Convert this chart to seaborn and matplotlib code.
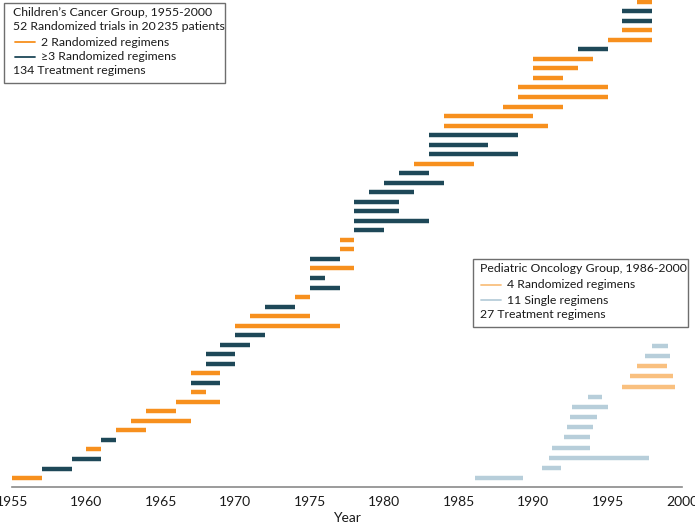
import matplotlib
matplotlib.use("Agg")
import matplotlib.pyplot as plt
import seaborn as sns
from matplotlib.lines import Line2D
from matplotlib.patches import Rectangle

# -------------------------------------------------------------------
# Data (one row per regimen, bottom to top)
# -------------------------------------------------------------------
# Children's Cancer Group: kind 2 = 2 randomized regimens, 3 = >=3 randomized
ccg_start = [1955, 1957, 1959, 1960, 1961, 1962, 1963, 1964, 1966, 1967,
             1967, 1967, 1968, 1968, 1969, 1970, 1970, 1971, 1972, 1974,
             1975, 1975, 1975, 1975, 1977, 1977, 1978, 1978, 1978, 1978,
             1979, 1980, 1981, 1982, 1983, 1983, 1983, 1984, 1984, 1988,
             1989, 1989, 1990, 1990, 1990, 1993, 1995, 1996, 1996, 1996,
             1997]
ccg_end = [1957, 1959, 1961, 1961, 1962, 1964, 1967, 1966, 1969, 1968,
           1969, 1969, 1970, 1970, 1971, 1972, 1977, 1975, 1974, 1975,
           1977, 1976, 1978, 1977, 1978, 1978, 1980, 1983, 1981, 1981,
           1982, 1984, 1983, 1986, 1989, 1987, 1989, 1991, 1990, 1992,
           1995, 1995, 1992, 1993, 1994, 1995, 1998, 1998, 1998, 1998,
           1998]
ccg_kind = [2, 3, 3, 2, 3, 2, 2, 2, 2, 2,
            3, 2, 3, 3, 3, 3, 2, 2, 3, 2,
            3, 3, 2, 3, 2, 2, 3, 3, 3, 3,
            3, 3, 3, 2, 3, 3, 3, 2, 2, 2,
            2, 2, 2, 2, 2, 3, 2, 2, 3, 3,
            2]

# Pediatric Oncology Group: "r" = randomized, "s" = single regimen
pog_start = [1986.1, 1990.6, 1991.1, 1991.25, 1992.1, 1992.3, 1992.5,
             1992.6, 1993.7, 1996.0, 1996.5, 1997.0, 1997.5, 1998.0]
pog_end = [1989.3, 1991.9, 1997.8, 1993.85, 1993.85, 1994.0, 1994.3,
           1995.0, 1994.6, 1999.5, 1999.4, 1999.0, 1999.2, 1999.05]
pog_kind = ["s", "s", "s", "s", "s", "s", "s", "s", "s",
            "r", "r", "r", "s", "s"]

year_ticks = list(range(1955, 2001, 5))

# -------------------------------------------------------------------
# Style
# -------------------------------------------------------------------
sns.set_style("white")
plt.rcParams["font.family"] = ["Lato", "DejaVu Sans"]

colors = {2: "#F7901E", 3: "#1E4858", "r": "#F9C07F", "s": "#B7CEDA"}
bar_lw = 3.2
txt_col = "#1a1a1a"
legend_fs = 8.8

W, H = 695, 525
fig = plt.figure(figsize=(W / 100, H / 100), dpi=100)
ax = fig.add_axes([12 / W, 38 / H, 670 / W, 487 / H])
ax2 = ax.twinx()

# CCG bars
for i, (s, e, k) in enumerate(zip(ccg_start, ccg_end, ccg_kind)):
    ax.hlines(i, s, e, color=colors[k], lw=bar_lw)

# POG bars on their own (slightly wider spaced) scale
for i, (s, e, k) in enumerate(zip(pog_start, pog_end, pog_kind)):
    ax2.hlines(i, s, e, color=colors[k], lw=bar_lw)

ax.set_ylim(-0.94, 50.18)
ax2.set_ylim(-0.89, 47.1)
ax.set_xlim(1955, 2000)

for a in (ax, ax2):
    a.set_yticks([])
    for side in ("left", "right", "top"):
        a.spines[side].set_visible(False)
    a.spines["bottom"].set_color("#8a8a8a")
    a.spines["bottom"].set_linewidth(1.2)
ax2.spines["bottom"].set_visible(False)

ax.set_xticks(year_ticks)
ax.tick_params(axis="x", direction="out", length=4, width=1.1,
               color="#8a8a8a", labelsize=10, labelcolor=txt_col, pad=2.5)
ax.set_xlabel("Year", fontsize=10, color=txt_col, labelpad=3)


# -------------------------------------------------------------------
# Hand-made legend boxes (figure pixel coordinates from the top-left)
# -------------------------------------------------------------------
def fx(px):
    return px / W


def fy(py):
    return 1 - py / H


def legend_box(x0, y0, x1, y1, lines, ys, text_x, handle_x, handle_len):
    fig.patches.append(Rectangle((fx(x0), fy(y1)), fx(x1 - x0), (y1 - y0) / H,
                                 transform=fig.transFigure, fill=True,
                                 facecolor="white", edgecolor="#6e6e6e",
                                 linewidth=1.0, zorder=5))
    for (label, col), y in zip(lines, ys):
        if col is None:
            fig.text(fx(text_x), fy(y), label, fontsize=legend_fs,
                     color=txt_col, va="center", ha="left", zorder=6)
        else:
            fig.add_artist(Line2D([fx(handle_x), fx(handle_x + handle_len)],
                                  [fy(y), fy(y)], color=col, lw=1.3,
                                  transform=fig.transFigure, zorder=6))
            fig.text(fx(handle_x + handle_len + 6), fy(y), label,
                     fontsize=legend_fs, color=txt_col, va="center",
                     ha="left", zorder=6)


ccg_lines = [
    ("Children\u2019s Cancer Group, 1955-2000", None),
    ("52 Randomized trials in 20\u2009235 patients", None),
    ("2 Randomized regimens", colors[2]),
    ("\u22653 Randomized regimens", colors[3]),
    ("134 Treatment regimens", None),
]
legend_box(4, 3, 225, 83, ccg_lines, [12, 27, 42, 57, 71], 13, 15, 20)

pog_lines = [
    ("Pediatric Oncology Group, 1986-2000", None),
    ("4 Randomized regimens", colors["r"]),
    ("11 Single regimens", colors["s"]),
    ("27 Treatment regimens", None),
]
legend_box(473, 259, 688, 327, pog_lines, [269, 285, 300, 315], 480, 481, 20)

fig.savefig("out.png", dpi=100)
plt.close(fig)
